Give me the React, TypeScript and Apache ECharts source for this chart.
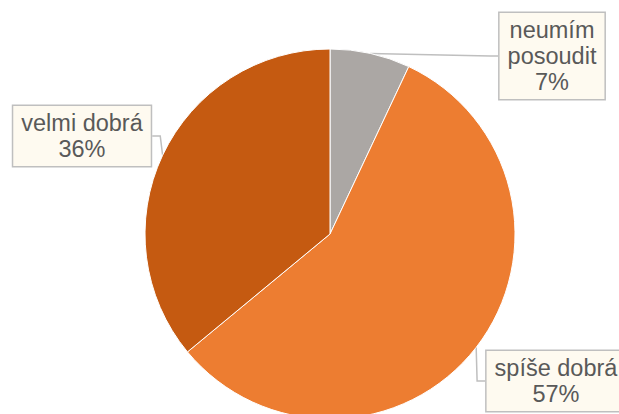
import React, { useEffect, useRef } from "react";
import * as echarts from "echarts";

const categories = ["neumím posoudit", "spíše dobrá", "velmi dobrá"];
const labelTexts = ["neumím\nposoudit", "spíše dobrá", "velmi dobrá"];
const values = [7, 57, 36];
const colors = ["#ABA7A4", "#ED7D31", "#C55A11"];
const labelCenters = [
  [552, 56],
  [556, 381],
  [82, 136],
];

export default function App() {
  const ref = useRef<HTMLDivElement>(null);
  useEffect(() => {
    document.body.style.margin = "0";
    const chart = echarts.init(ref.current!, null, { renderer: "svg" });
    chart.setOption({
      animation: false,
      backgroundColor: "#ffffff",
      series: [
        {
          type: "pie",
          center: [330, 234],
          radius: 185,
          startAngle: 90,
          clockwise: true,
          avoidLabelOverlap: false,
          itemStyle: { borderColor: "#ffffff", borderWidth: 1 },
          label: {
            show: true,
            position: "outside",
            formatter: (p: any) => `${labelTexts[p.dataIndex]}\n${p.value}%`,
            fontFamily: "Liberation Sans, Arial, sans-serif",
            fontSize: 23.5,
            lineHeight: 26,
            color: "#595959",
            align: "center",
            backgroundColor: "#FEFAF0",
            borderColor: "#BFBFBF",
            borderWidth: 1.5,
            padding: [5, 8, 3, 8],
          },
          labelLine: {
            show: true,
            length: 8,
            length2: 8,
            lineStyle: { color: "#BFBFBF", width: 1.5 },
          },
          labelLayout: (params: any) => {
            const c = labelCenters[params.dataIndex];
            return { x: c[0], y: c[1], align: "center", verticalAlign: "middle" };
          },
          data: categories.map((name, i) => ({
            name,
            value: values[i],
            itemStyle: { color: colors[i] },
          })),
        },
      ],
    });
    return () => chart.dispose();
  }, []);
  return (
    <div
      ref={ref}
      style={{ position: "absolute", left: 0, top: 0, width: 619, height: 414 }}
    />
  );
}
